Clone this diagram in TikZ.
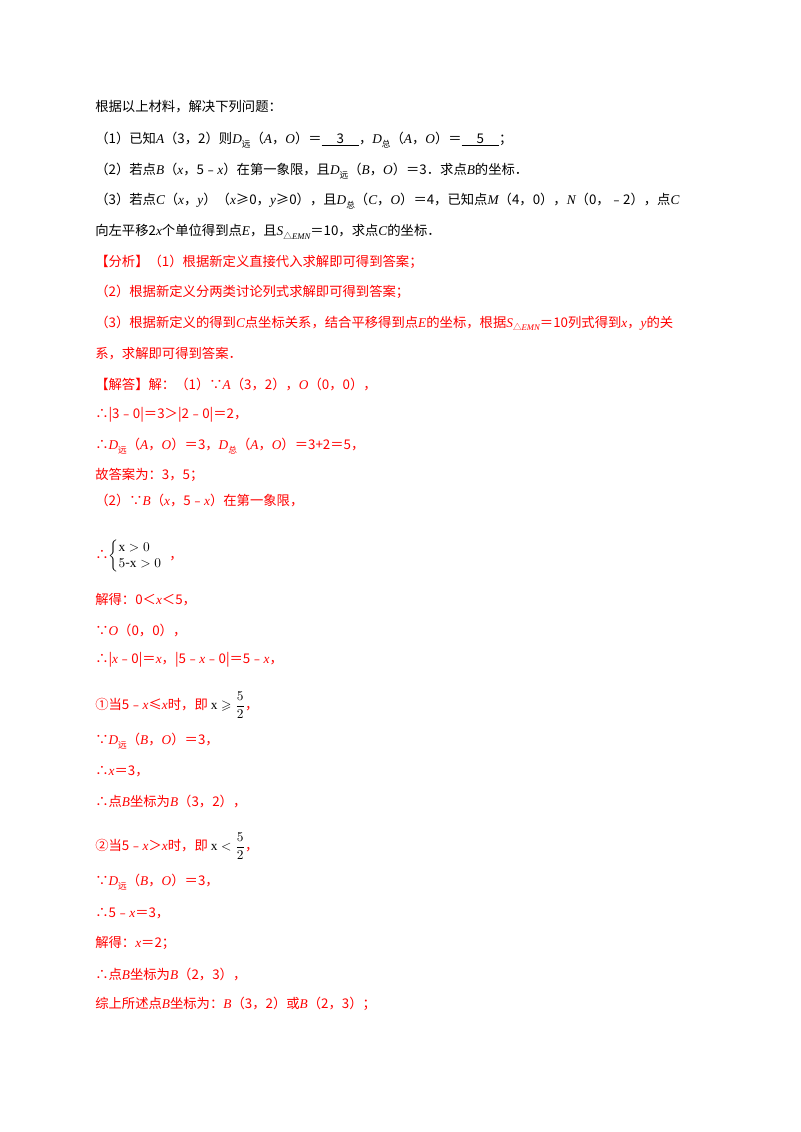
\documentclass[tikz,border=0pt]{standalone}
\usepackage{amsmath,amssymb}
\usepackage{fontspec}
\setmainfont{Liberation Serif}
\newfontfamily\cjk{Noto Sans CJK SC}
\newcommand\mi[1]{{\rmfamily\itshape #1}}
\newcommand\sbx[1]{\raisebox{-2.5pt}{\fontsize{6.5}{7}\selectfont #1}}
\newcommand\blank[1]{\underline{\hbox to 28pt{\hss #1\hss}}}
\definecolor{ans}{RGB}{255,0,0}
\begin{document}
\begin{tikzpicture}[x=0.75pt,y=-0.75pt,
  ln/.style={anchor=west,inner sep=0pt,font=\cjk\fontsize{10}{12}\selectfont},
  rl/.style={ln,text=ans}]
\useasboundingbox (0,0) rectangle (800,1132);
\node[ln] (l1) at (95,107) {根据以上材料，解决下列问题：};
\node[ln] (l2) at (95,140) {（1）已知\mi{A}（3，2）则\mi{D}\sbx{远}（\mi{A}，\mi{O}）＝\blank{3}，\mi{D}\sbx{总}（\mi{A}，\mi{O}）＝\blank{5}；};
\node[ln] (l3) at (95,171) {（2）若点\mi{B}（\mi{x}，5﹣\mi{x}）在第一象限，且\mi{D}\sbx{远}（\mi{B}，\mi{O}）＝3．求点\mi{B}的坐标．};
\node[ln] (l4) at (95,201) {（3）若点\mi{C}（\mi{x}，\mi{y}）（\mi{x}≥0，\mi{y}≥0），且\mi{D}\sbx{总}（\mi{C}，\mi{O}）＝4，已知点\mi{M}（4，0），\mi{N}（0，﹣2），点\mi{C}};
\node[ln] (l5) at (95,232) {向左平移2\mi{x}个单位得到点\mi{E}，且\mi{S}\sbx{△\mi{EMN}}＝10，求点\mi{C}的坐标．};
\node[rl] (l6) at (95,262) {【分析】（1）根据新定义直接代入求解即可得到答案；};
\node[rl] (l7) at (95,292) {（2）根据新定义分两类讨论列式求解即可得到答案；};
\node[rl] (l8) at (95,323) {（3）根据新定义的得到\mi{C}点坐标关系，结合平移得到点\mi{E}的坐标，根据\mi{S}\sbx{△\mi{EMN}}＝10列式得到\mi{x}，\mi{y}的关};
\node[rl] (l9) at (95,354) {系，求解即可得到答案．};
\node[rl] (l10) at (95,384) {【解答】解：（1）∵\mi{A}（3，2），\mi{O}（0，0），};
\node[rl] (l11) at (95,415) {∴|3﹣0|＝3＞|2﹣0|＝2，};
\node[rl] (l12) at (95,446) {∴\mi{D}\sbx{远}（\mi{A}，\mi{O}）＝3，\mi{D}\sbx{总}（\mi{A}，\mi{O}）＝3+2＝5，};
\node[rl] (l13) at (95,475) {故答案为：3，5；};
\node[rl] (l14) at (95,500) {（2）∵\mi{B}（\mi{x}，5﹣\mi{x}）在第一象限，};
\node[rl] (l15) at (95,556) {∴\textcolor{black}{$\left\{\begin{array}{@{}l}\mathrm{x}>0\\ 5\text{-}\mathrm{x}>0\end{array}\right.$}，};
\node[rl] (l16) at (95,600) {解得：0＜\mi{x}＜5，};
\node[rl] (l17) at (95,630) {∵\mi{O}（0，0），};
\node[rl] (l18) at (95,660) {∴|\mi{x}﹣0|＝\mi{x}，|5﹣\mi{x}﹣0|＝5﹣\mi{x}，};
\node[rl] (l19) at (95,705) {①当5﹣\mi{x}≤\mi{x}时，即 \textcolor{black}{$\mathrm{x}\geqslant\dfrac{5}{2}$}，};
\node[rl] (l20) at (95,741) {∵\mi{D}\sbx{远}（\mi{B}，\mi{O}）＝3，};
\node[rl] (l21) at (95,771) {∴\mi{x}＝3，};
\node[rl] (l22) at (95,801) {∴点\mi{B}坐标为\mi{B}（3，2），};
\node[rl] (l23) at (95,846) {②当5﹣\mi{x}＞\mi{x}时，即 \textcolor{black}{$\mathrm{x}<\dfrac{5}{2}$}，};
\node[rl] (l24) at (95,882) {∵\mi{D}\sbx{远}（\mi{B}，\mi{O}）＝3，};
\node[rl] (l25) at (95,913) {∴5﹣\mi{x}＝3，};
\node[rl] (l26) at (95,943) {解得：\mi{x}＝2；};
\node[rl] (l27) at (95,974) {∴点\mi{B}坐标为\mi{B}（2，3），};
\node[rl] (l28) at (95,1004) {综上所述点\mi{B}坐标为：\mi{B}（3，2）或\mi{B}（2，3）；};
\end{tikzpicture}
\end{document}
